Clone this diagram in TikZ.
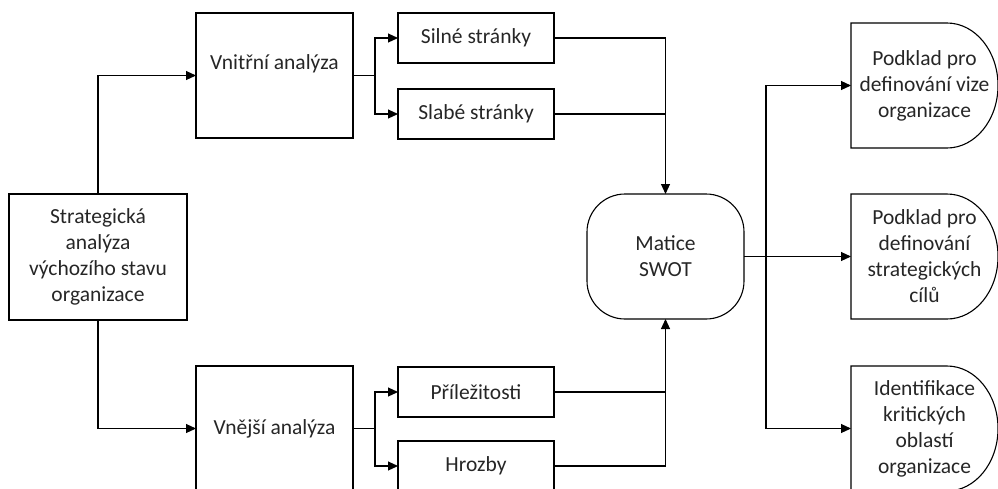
\documentclass[tikz,border=0pt]{standalone}
\usepackage{fontspec}
\setmainfont{Carlito}
\usepackage{tikz}
\usetikzlibrary{arrows.meta, positioning}

\begin{document}
\begin{tikzpicture}[
    x=1pt, y=1pt,
    node distance=25pt and 20pt,
    every node/.style={font=\fontsize{21.5}{26}\selectfont, text=black!85},
    box/.style={rectangle, draw, line width=1.1pt, minimum width=157pt, minimum height=125pt, align=center, inner sep=0pt, outer sep=0pt},
    small/.style={box, minimum width=156pt, minimum height=50pt},
    swot/.style={box, rounded corners=38pt},
    result/.style={rectangle, minimum width=147pt, minimum height=125pt, align=center, inner sep=0pt, outer sep=0pt},
    arrow/.style={-{Triangle[length=10pt, width=9pt]}, line width=1.1pt},
    link/.style={line width=1.1pt}
]
\useasboundingbox (0,0) rectangle (998,-488);
% vstupni analyza
\node (strat) [box, minimum width=178pt, minimum height=126pt] at (98,-257) {Strategická\\analýza\\výchozího stavu\\organizace};
\node (vnitrni) [box, text height=16pt, text depth=29pt] at (274.5,-75.5) {Vnitřní analýza};
\node (vnejsi) [box] at (274.5,-428.5) {Vnější analýza};
\node (silne) [small] at (476,-38) {Silné stránky};
\node (slabe) [small, below=26pt of silne] {Slabé stránky};
\node (prilez) [small] at (476,-392) {Příležitosti};
\node (hrozby) [small, below=24pt of prilez] {Hrozby};
\node (matice) [swot] at (665.5,-256.5) {Matice\\SWOT};
% vystupy
\node (vize) [result] at (924.5,-85.5) {Podklad pro\\definování vize\\organizace};
\node (cile) [result, below=46pt of vize] {Podklad pro\\definování\\strategických\\cílů};
\node (krit) [result, below=47pt of cile] {Identifikace\\kritických\\oblastí\\organizace};
\foreach \n in {vize, cile, krit}
    \draw [link] (\n.north west) -- ([xshift=-51pt]\n.north east)
        arc[x radius=51pt, y radius=62.5pt, start angle=90, end angle=-90]
        -- (\n.south west) -- cycle;
\draw [arrow] (strat.north) |- (vnitrni.west);
\draw [arrow] (strat.south) |- (vnejsi.west);
\draw [arrow] (vnitrni.east) -- ++(22,0) |- (silne.west);
\draw [arrow] (vnitrni.east) -- ++(22,0) |- (slabe.west);
\draw [arrow] (vnejsi.east) -- ++(22,0) |- (prilez.west);
\draw [arrow] (vnejsi.east) -- ++(22,0) |- (hrozby.west);
\draw [arrow] (silne.east) -| (matice.north);
\draw [link] (slabe.east) -- (slabe.east -| matice.north);
\draw [arrow] (hrozby.east) -| (matice.south);
\draw [link] (prilez.east) -- (prilez.east -| matice.south);
\draw [arrow] (matice.east) -- ++(22,0) |- (vize.west);
\draw [arrow] (matice.east) -- (cile.west);
\draw [arrow] (matice.east) -- ++(22,0) |- (krit.west);
\end{tikzpicture}
\end{document}
